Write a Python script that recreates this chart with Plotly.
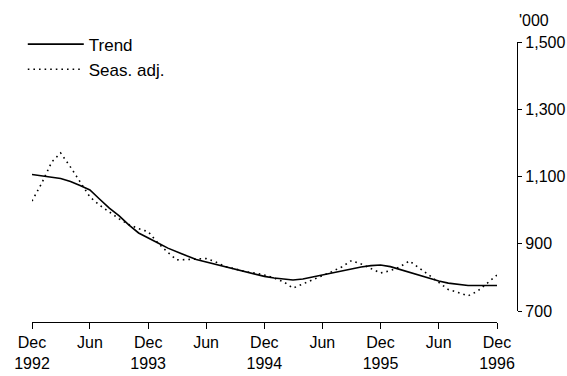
import plotly.graph_objects as go
import pandas as pd

# Monthly observations, Dec 1992 to Dec 1996 ('000)
months = pd.date_range("1992-12-01", "1996-12-01", freq="MS")

trend = [1106, 1101, 1098, 1094, 1085, 1073, 1060, 1033, 1006, 983, 956, 932,
         916, 902, 887, 875, 864, 853, 846, 838, 831, 823, 817, 810,
         803, 798, 794, 792, 795, 801, 806, 813, 819, 825, 831, 835,
         837, 832, 823, 814, 807, 798, 789, 783, 779, 776, 776, 776,
         776]

seas_adj = [1027, 1081, 1143, 1170, 1128, 1084, 1039, 1015, 994, 974, 957, 945,
            936, 902, 874, 852, 853, 855, 856, 846, 832, 825, 817, 813,
            807, 798, 786, 768, 780, 794, 806, 817, 831, 850, 840, 826,
            813, 820, 832, 849, 829, 807, 785, 764, 755, 745, 759, 783,
            807]

tick_dates = pd.date_range("1992-12-01", "1996-12-01", freq="6MS")
tick_text = ["Dec<br>1992", "Jun", "Dec<br>1993", "Jun", "Dec<br>1994",
             "Jun", "Dec<br>1995", "Jun", "Dec<br>1996"]

y_ticks = [700, 900, 1100, 1300, 1500]

FONT = "Liberation Sans, Arial, Helvetica, sans-serif"

fig = go.Figure()
fig.add_trace(go.Scatter(x=months, y=trend, name="Trend", mode="lines",
                         line=dict(color="black", width=1.6)))
fig.add_trace(go.Scatter(x=months, y=seas_adj, name="Seas. adj.", mode="lines",
                         line=dict(color="black", width=1.6, dash="1.6px,4px")))

fig.update_layout(
    width=567, height=376,
    margin=dict(l=32, r=50, t=42, b=54, autoexpand=False),
    paper_bgcolor="white", plot_bgcolor="white",
    font=dict(family=FONT, size=16, color="black"),
    showlegend=True,
    legend=dict(x=-0.019, y=1.055, xanchor="left", yanchor="top",
                bgcolor="rgba(0,0,0,0)", font=dict(size=17),
                itemwidth=56, tracegroupgap=0),
    xaxis=dict(
        domain=[0, 465 / 485],
        range=[months[0], months[-1]],
        anchor="free", position=0,
        automargin=False,
        showgrid=False, zeroline=False,
        showline=True, linecolor="black", linewidth=1.3,
        ticks="outside", ticklen=6, tickwidth=1.3, tickcolor="black",
        tickvals=tick_dates, ticktext=tick_text,
        tickfont=dict(size=16),
    ),
    yaxis=dict(
        domain=[11 / 280, 1],
        range=[700, 1500],
        side="right", anchor="free", position=1,
        automargin=False,
        showgrid=False, zeroline=False,
        showline=True, linecolor="black", linewidth=1.3,
        ticks="outside", ticklen=4, tickwidth=1.3, tickcolor="black",
        tickvals=y_ticks, tickformat=",",
        tickfont=dict(size=16),
    ),
    annotations=[dict(text="'000", xref="paper", yref="paper",
                      x=1.0, y=1.0, xanchor="left", yanchor="bottom",
                      xshift=0, yshift=11, showarrow=False,
                      font=dict(size=16))],
)

fig.write_html("out.html")
